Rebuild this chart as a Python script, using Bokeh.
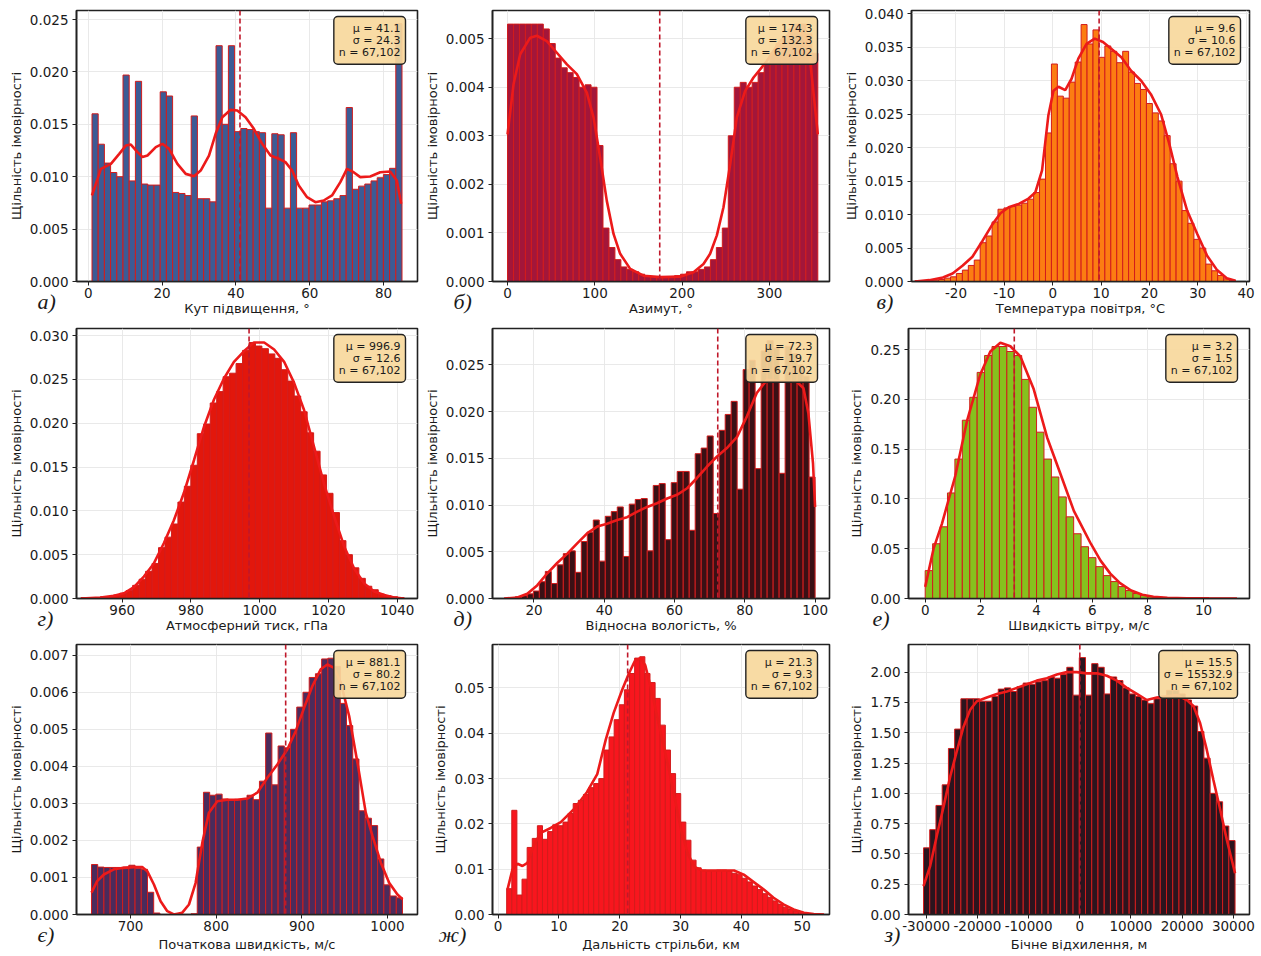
import numpy as np
from bokeh.plotting import figure
from bokeh.layouts import column, row
from bokeh.models import Range1d, FixedTicker, PrintfTickFormatter, Span, Label, Title
from bokeh.embed import file_html
from bokeh.resources import INLINE

N_TEXT = "67,102"
YLABEL = "Щільність імовірності"

# ---------------- panel а) elevation angle ----------------
a_bins = (1.0, 85.0)
a_heights = [0.0160, 0.0131, 0.0113, 0.0104, 0.0100, 0.0197, 0.0096, 0.0191, 0.0093, 0.0092,
             0.0092, 0.0181, 0.0177, 0.0085, 0.0084, 0.0082, 0.0158, 0.0079, 0.0079, 0.0076,
             0.0225, 0.0150, 0.0225, 0.0143, 0.0146, 0.0145, 0.0143, 0.0142, 0.0070, 0.0141,
             0.0140, 0.0070, 0.0142, 0.0070, 0.0070, 0.0073, 0.0073, 0.0076, 0.0077, 0.0079,
             0.0082, 0.0166, 0.0088, 0.0091, 0.0093, 0.0096, 0.0099, 0.0102, 0.0108, 0.0246]
a_kde_x = [0.99, 3.42, 6.13, 8.38, 10.18, 11.53, 13.33, 14.68, 16.04, 18.29, 20.09, 21.89, 24.14,
           26.40, 28.65, 30.45, 32.70, 34.50, 36.31, 38.56, 40.36, 42.61, 44.86, 47.12, 49.37,
           51.62, 53.42, 55.23, 57.03, 59.28, 61.53, 63.78, 66.04, 68.29, 70.09, 71.89, 73.69,
           76.40, 79.10, 81.80, 83.60, 84.77]
a_kde_y = [0.00821, 0.01075, 0.01123, 0.01218, 0.01298, 0.01307, 0.01234, 0.01187, 0.01202,
           0.01282, 0.01314, 0.01266, 0.01123, 0.01027, 0.01005, 0.01059, 0.01202, 0.01409,
           0.01568, 0.01638, 0.01632, 0.01568, 0.01457, 0.01314, 0.01202, 0.01171, 0.01139,
           0.01059, 0.00916, 0.00805, 0.00757, 0.00773, 0.00821, 0.00948, 0.01075, 0.01043,
           0.00996, 0.01002, 0.01043, 0.01050, 0.00964, 0.00741]

# ---------------- panel б) azimuth ----------------
b_bins = (0.0, 355.3)
b_heights = [0.0053, 0.0053, 0.0053, 0.0053, 0.0053, 0.0053, 0.0052, 0.0049, 0.0046, 0.0044,
             0.0043, 0.0042, 0.0040, 0.00405, 0.0040, 0.0028, 0.0011, 0.0007, 0.00045, 0.0003,
             0.00025, 0.0002, 0.00015, 0.00012, 0.0001, 0.0001, 0.0001, 0.0001, 0.00012, 0.00015,
             0.0002, 0.0002, 0.00025, 0.0003, 0.00045, 0.0007, 0.0011, 0.0030, 0.0040, 0.0041,
             0.0040, 0.0041, 0.0043, 0.0045, 0.0047, 0.0049, 0.0050, 0.0052, 0.0053, 0.0053,
             0.0051, 0.0047]
b_kde_x = [0, 6.9, 14.5, 26, 33.6, 45, 56.5, 68, 79.4, 90.8, 98.5, 106, 113.7, 121.4, 129, 140.5,
           155.7, 174.8, 197.7, 213, 224.4, 232, 239.7, 247.3, 255, 262.6, 272, 281.7, 297, 312,
           327.5, 339, 346.6, 355.3]
b_kde_y = [0.00303, 0.00406, 0.00468, 0.00502, 0.00506, 0.00495, 0.00471, 0.00447, 0.00427,
           0.00389, 0.00338, 0.00256, 0.00166, 0.00098, 0.00057, 0.00026, 0.00012, 0.00009,
           0.0001, 0.00019, 0.00036, 0.00057, 0.00095, 0.00153, 0.00242, 0.00338, 0.00392,
           0.0042, 0.00454, 0.00495, 0.00516, 0.00509, 0.00454, 0.00303]

# ---------------- panel в) air temperature ----------------
c_bins = (-28.5, 37.8)
c_heights = [0.0001, 0.0001, 0.0002, 0.0002, 0.0003, 0.0005, 0.0007, 0.0012, 0.0017, 0.0024,
             0.0032, 0.0058, 0.0068, 0.0089, 0.0108, 0.0110, 0.0112, 0.0114, 0.0117, 0.0123,
             0.0133, 0.0153, 0.0222, 0.0325, 0.0277, 0.0274, 0.0298, 0.0328, 0.0384, 0.0355,
             0.0376, 0.0335, 0.0352, 0.0344, 0.0327, 0.0344, 0.0313, 0.0296, 0.0287, 0.0266,
             0.0252, 0.0240, 0.0218, 0.0176, 0.0150, 0.0106, 0.0087, 0.0063, 0.0050, 0.0026,
             0.0016, 0.0009, 0.0004, 0.0002]
c_kde_x = [-28.5, -25.5, -22.7, -20.7, -18.6, -16.6, -14.5, -12.5, -10.8, -9.1, -7.0, -5.0, -3.6,
           -2.2, -0.9, 0.16, 1.2, 2.6, 3.9, 5.3, 7.0, 8.7, 10.4, 12.1, 14.2, 16.2, 18.3, 20.3,
           22.4, 24.1, 25.8, 27.8, 29.9, 31.9, 34.0, 36.0, 37.8]
c_kde_y = [0.0, 0.0002, 0.0006, 0.0012, 0.0024, 0.0037, 0.0061, 0.0085, 0.0102, 0.0111, 0.0116,
           0.0124, 0.0133, 0.0166, 0.0248, 0.0285, 0.0291, 0.0286, 0.0303, 0.0333, 0.0355,
           0.0363, 0.0358, 0.0348, 0.0335, 0.0315, 0.0300, 0.0280, 0.0250, 0.0206, 0.0156,
           0.0106, 0.0071, 0.0039, 0.0017, 0.0005, 0.0001]

# ---------------- panel г) pressure ----------------
d_bins = (948.0, 1042.0)
d_heights = [0.0001, 0.0001, 0.0001, 0.0002, 0.0002, 0.0004, 0.0006, 0.0009, 0.0015, 0.0022,
             0.0031, 0.0040, 0.0058, 0.0070, 0.0085, 0.0110, 0.0128, 0.0152, 0.0188, 0.0199,
             0.0223, 0.0236, 0.0253, 0.0257, 0.0268, 0.0283, 0.0292, 0.0288, 0.0285, 0.0279,
             0.0274, 0.0261, 0.0248, 0.0231, 0.0213, 0.0189, 0.0168, 0.0141, 0.0120, 0.0098,
             0.0066, 0.0050, 0.0035, 0.0023, 0.0014, 0.0010, 0.0005, 0.0003, 0.0002, 0.0001]
d_kde_x = [948, 953.7, 957.6, 960.5, 963.4, 966.3, 969.2, 972.1, 975.0, 977.9, 980.9, 983.8,
           986.7, 989.6, 992.5, 995.4, 998.3, 1001.3, 1004.2, 1007.1, 1010, 1012.9, 1015.8,
           1018.7, 1021.7, 1024.6, 1027.5, 1030.4, 1033.3, 1036.2, 1039.1, 1042]
d_kde_y = [0.0, 0.0001, 0.0003, 0.0006, 0.0013, 0.0025, 0.0040, 0.0063, 0.0089, 0.0120, 0.0158,
           0.0196, 0.0227, 0.0251, 0.0270, 0.0282, 0.0292, 0.0292, 0.0284, 0.0270, 0.0246,
           0.0215, 0.0173, 0.0131, 0.0093, 0.0059, 0.0034, 0.0017, 0.0008, 0.0004, 0.0001, 0.0]

# ---------------- panel д) relative humidity ----------------
e_bins = (13.0, 100.0)
e_heights = [0.0001, 0.0002, 0.0003, 0.0005, 0.0008, 0.0018, 0.0029, 0.0016, 0.0036, 0.0048,
             0.0051, 0.0028, 0.0061, 0.0071, 0.0084, 0.0040, 0.0088, 0.0093, 0.0098, 0.0045,
             0.0101, 0.0106, 0.0107, 0.0051, 0.0121, 0.0123, 0.0063, 0.0124, 0.0136, 0.0136,
             0.0073, 0.0155, 0.0161, 0.0174, 0.0091, 0.0180, 0.0197, 0.0211, 0.0117, 0.0245,
             0.0255, 0.0139, 0.0265, 0.0276, 0.0268, 0.0134, 0.0270, 0.0262, 0.0250, 0.0238,
             0.0130]
e_kde_x = [11.5, 15.3, 18.1, 20.9, 23.8, 26.6, 29.5, 32.3, 35.2, 38, 40.8, 43.7, 46.5, 49.4,
           52.2, 55, 57.9, 60.7, 63.6, 66.4, 69.2, 72.1, 74.9, 77.8, 80.6, 83.4, 86.3, 89.1,
           92, 94.8, 96.7, 98.1, 99.4, 100]
e_kde_y = [0.0, 0.0001, 0.0005, 0.0014, 0.0027, 0.0038, 0.0048, 0.0059, 0.0070, 0.0077, 0.0080,
           0.0084, 0.0087, 0.0093, 0.0098, 0.0102, 0.0107, 0.0111, 0.0118, 0.0129, 0.0141,
           0.0152, 0.0161, 0.0173, 0.0195, 0.0220, 0.0234, 0.0233, 0.0232, 0.0232, 0.0225,
           0.0198, 0.0145, 0.0098]

# ---------------- panel е) wind speed ----------------
f_bins = (0.0, 11.2)
f_heights = [0.028, 0.055, 0.072, 0.106, 0.140, 0.179, 0.202, 0.227, 0.244, 0.253,
             0.253, 0.248, 0.244, 0.220, 0.192, 0.167, 0.140, 0.122, 0.102, 0.082,
             0.065, 0.052, 0.041, 0.032, 0.023, 0.017, 0.012, 0.008, 0.005, 0.003,
             0.002, 0.0012, 0.0008, 0.0005, 0.0003, 0.0002, 0.0001, 0.0001, 0.00005, 0.00005,
             0.00003, 0.00002]
f_kde_x = [0.0, 0.30, 0.6, 1.08, 1.50, 1.98, 2.34, 2.70, 3.06, 3.42, 3.90, 4.38, 4.86, 5.34,
           5.6, 5.95, 6.3, 6.65, 7.0, 7.4, 7.8, 8.2, 8.7, 9.4, 10.2, 11.2]
f_kde_y = [0.0117, 0.050, 0.075, 0.123, 0.178, 0.225, 0.248, 0.2567, 0.2533, 0.243, 0.21,
           0.1617, 0.125, 0.088, 0.074, 0.055, 0.038, 0.025, 0.0155, 0.008, 0.0037, 0.0017,
           0.0008, 0.0003, 0.0001, 0.0]

# ---------------- panel є) muzzle velocity ----------------
g_bins = (654.4, 1017.5)
g_heights = [0.00135, 0.00128, 0.00127, 0.00127, 0.00127, 0.00128, 0.00133, 0.00125, 0.00122, 0.00060,
             0.00004, 0.0, 0.0, 0.0, 0.0, 0.0, 0.00002, 0.00182, 0.00330, 0.00322,
             0.00325, 0.00312, 0.00310, 0.00311, 0.00312, 0.00322, 0.00310, 0.00360, 0.00490, 0.00350,
             0.00455, 0.00450, 0.00500, 0.00560, 0.00600, 0.00640, 0.00650, 0.00690, 0.00692, 0.00670,
             0.00570, 0.00510, 0.00420, 0.00280, 0.00260, 0.00240, 0.00150, 0.00080, 0.00050, 0.00045]
g_kde_x = [654.4, 661, 668.8, 680.5, 692.2, 703.9, 713.6, 719.5, 727.3, 735.1, 742.9, 750.6,
           760.4, 768.2, 775.9, 783.8, 791.5, 801.3, 813, 824.7, 836.3, 848, 859.7, 871.4,
           883.1, 892.8, 902.6, 912.3, 922, 929.8, 937.6, 945.4, 955.2, 964.9, 974.6, 982.4,
           992.2, 1001.9, 1011.6, 1017.5]
g_kde_y = [0.00059, 0.0009, 0.00108, 0.00122, 0.00126, 0.00128, 0.00128, 0.00117, 0.00081,
           0.00036, 0.00009, 0.0, 0.00005, 0.00027, 0.00085, 0.00194, 0.00275, 0.00306, 0.0031,
           0.0031, 0.00313, 0.00329, 0.00369, 0.00405, 0.00446, 0.00495, 0.00558, 0.00617,
           0.00662, 0.00675, 0.00666, 0.00626, 0.00536, 0.0041, 0.00275, 0.00212, 0.0014,
           0.00086, 0.00054, 0.00041]

# ---------------- panel ж) firing range ----------------
h_bins = (1.4, 53.6)
h_heights = [0.0057, 0.0230, 0.0043, 0.0078, 0.0148, 0.0168, 0.0196, 0.0166, 0.0183, 0.0198,
             0.0196, 0.0204, 0.0223, 0.0245, 0.0252, 0.0265, 0.0280, 0.0289, 0.0300, 0.0363,
             0.0392, 0.0430, 0.0463, 0.0496, 0.0532, 0.0566, 0.0569, 0.0532, 0.0512, 0.0477,
             0.0418, 0.0363, 0.0311, 0.0267, 0.0204, 0.0164, 0.0120, 0.0103, 0.0098, 0.0097,
             0.0097, 0.0098, 0.0098, 0.0096, 0.0091, 0.0089, 0.0080, 0.0072, 0.0063, 0.0055,
             0.0046, 0.0038, 0.0030, 0.0023, 0.0016, 0.0011, 0.0007, 0.0004, 0.0002, 0.0001,
             0.00005, 0.00003]
h_kde_x = [1.53, 2.35, 3.18, 4.0, 4.82, 5.9, 7.0, 8.65, 10.3, 12.5, 14.6, 16.3, 17.7, 19.0,
           20.4, 21.5, 22.5, 23.4, 24.2, 25.2, 26.6, 28.0, 29.0, 30.1, 31.2, 32.3, 33.6, 36.4,
           38.8, 40.4, 42.1, 43.7, 45.3, 47.0, 48.6, 50.3, 51.9, 53.6]
h_kde_y = [0.0055, 0.0099, 0.0112, 0.0107, 0.0114, 0.0154, 0.018, 0.0191, 0.0204, 0.0233,
           0.0270, 0.031, 0.0386, 0.0445, 0.0496, 0.0532, 0.056, 0.0566, 0.055, 0.0496, 0.041,
           0.0326, 0.026, 0.0186, 0.0134, 0.0105, 0.0097, 0.0097, 0.0097, 0.0088, 0.0071,
           0.0055, 0.0037, 0.0022, 0.0011, 0.0004, 0.0001, 0.0]

# ---------------- panel з) lateral deviation ----------------
i_bins = (-30520.0, 30330.0)
i_heights = [0.55, 0.70, 0.90, 1.07, 1.37, 1.53, 1.78, 1.78, 1.78, 1.76,
             1.76, 1.80, 1.86, 1.87, 1.84, 1.88, 1.91, 1.90, 1.92, 1.93,
             1.96, 1.95, 1.98, 2.04, 1.81, 2.12, 1.81, 2.07, 2.04, 1.82,
             1.96, 1.93, 1.87, 1.82, 1.80, 1.77, 1.74, 1.78, 1.80, 1.85,
             1.85, 1.82, 1.77, 1.72, 1.51, 1.29, 1.00, 0.93, 0.73, 0.61]
i_kde_x = [-30520, -29220, -27920, -26600, -25300, -24000, -22700, -21400, -20100, -18150,
           -16200, -14240, -12290, -10340, -8400, -6430, -4480, -2530, -580, 1380, 3330, 5290,
           7240, 9190, 11150, 13100, 15050, 17000, 18960, 20900, 22200, 23500, 24800, 26100,
           27400, 28700, 30330]
i_kde_y = [0.234, 0.40, 0.65, 0.89, 1.14, 1.35, 1.55, 1.69, 1.76, 1.79, 1.82, 1.84, 1.87, 1.90,
           1.93, 1.95, 1.98, 2.00, 2.00, 1.99, 1.99, 1.97, 1.93, 1.87, 1.82, 1.77, 1.79, 1.80,
           1.81, 1.77, 1.72, 1.58, 1.36, 1.11, 0.87, 0.62, 0.34]

panels = [
    dict(letter="а)", xlabel="Кут підвищення, °", bins=a_bins, h=a_heights, kx=a_kde_x, ky=a_kde_y,
         mu="41.1", sd="24.3", mean=41.1, fill="#3c5b95", xr=(-3.2, 89.2), yr=(0, 0.02586),
         xt=[0, 20, 40, 60, 80], yt=[0, 0.005, 0.01, 0.015, 0.02, 0.025], yf="%.3f", lx=-39),
    dict(letter="б)", xlabel="Азимут, °", bins=b_bins, h=b_heights, kx=b_kde_x, ky=b_kde_y,
         mu="174.3", sd="132.3", mean=174.3, fill="#a3163a", xr=(-17.2, 368.7), yr=(0, 0.00558),
         xt=[0, 100, 200, 300], yt=[0, 0.001, 0.002, 0.003, 0.004, 0.005], yf="%.3f", lx=-39),
    dict(letter="в)", xlabel="Температура повітря, °C", bins=c_bins, h=c_heights, kx=c_kde_x, ky=c_kde_y,
         mu="9.6", sd="10.6", mean=9.6, fill="#fc7d12", xr=(-29.2, 40.7), yr=(0, 0.0405),
         xt=[-20, -10, 0, 10, 20, 30, 40], yt=[0, 0.005, 0.01, 0.015, 0.02, 0.025, 0.03, 0.035, 0.04],
         yf="%.3f", lx=-35),
    dict(letter="г)", xlabel="Атмосферний тиск, гПа", bins=d_bins, h=d_heights, kx=d_kde_x, ky=d_kde_y,
         mu="996.9", sd="12.6", mean=996.9, fill="#e2170c", xr=(946.7, 1045.9), yr=(0, 0.0308),
         xt=[960, 980, 1000, 1020, 1040], yt=[0, 0.005, 0.01, 0.015, 0.02, 0.025, 0.03], yf="%.3f",
         lx=-39),
    dict(letter="д)", xlabel="Відносна вологість, %", bins=e_bins, h=e_heights, kx=e_kde_x, ky=e_kde_y,
         mu="72.3", sd="19.7", mean=72.3, fill="#3a1015", xr=(8.2, 104.1), yr=(0, 0.0289),
         xt=[20, 40, 60, 80, 100], yt=[0, 0.005, 0.01, 0.015, 0.02, 0.025], yf="%.3f", lx=-39),
    dict(letter="е)", xlabel="Швидкість вітру, м/с", bins=f_bins, h=f_heights, kx=f_kde_x, ky=f_kde_y,
         mu="3.2", sd="1.5", mean=3.2, fill="#86c11e", xr=(-0.6, 11.65), yr=(0, 0.2711),
         xt=[0, 2, 4, 6, 8, 10], yt=[0, 0.05, 0.1, 0.15, 0.2, 0.25], yf="%.2f", lx=-36),
    dict(letter="є)", xlabel="Початкова швидкість, м/с", bins=g_bins, h=g_heights, kx=g_kde_x, ky=g_kde_y,
         mu="881.1", sd="80.2", mean=881.1, fill="#4b2b5c", xr=(636.9, 1035.0), yr=(0, 0.00729),
         xt=[700, 800, 900, 1000], yt=[0, 0.001, 0.002, 0.003, 0.004, 0.005, 0.006, 0.007], yf="%.3f",
         lx=-39),
    dict(letter="ж)", xlabel="Дальність стрільби, км", bins=h_bins, h=h_heights, kx=h_kde_x, ky=h_kde_y,
         mu="21.3", sd="9.3", mean=21.3, fill="#f8161e", xr=(-0.93, 54.5), yr=(0, 0.0596),
         xt=[0, 10, 20, 30, 40, 50], yt=[0, 0.01, 0.02, 0.03, 0.04, 0.05], yf="%.2f", lx=-54),
    dict(letter="з)", xlabel="Бічне відхилення, м", bins=i_bins, h=i_heights, kx=i_kde_x, ky=i_kde_y,
         mu="15.5", sd="15532.9", mean=15.5, fill="#2c141e", xr=(-33450, 33150), yr=(0, 2.228),
         xt=[-30000, -20000, -10000, 0, 10000, 20000, 30000],
         yt=[0, 0.25, 0.5, 0.75, 1.0, 1.25, 1.5, 1.75, 2.0], yf="%.2f", lx=-24),
]

COLS = [(420, 76, 3), (420, 72, 11), (421, 68, 12)]   # width, border left, border right
ROWS = [(318, 10, 37, -6), (318, 10, 38, -5), (320, 8, 42, 0)]   # height, top, bottom, xlabel standoff

FONT = "DejaVu Sans"
TXT = "#1a1a1a"


def make_panel(pd, ci, ri):
    w, bl, br = COLS[ci]
    h, bt, bb, xso = ROWS[ri]
    fw, fh = w - bl - br, h - bt - bb
    p = figure(width=w, height=h, output_backend="svg", toolbar_location=None,
               x_range=Range1d(*pd["xr"]), y_range=Range1d(*pd["yr"]),
               min_border_left=bl, min_border_right=br, min_border_top=bt, min_border_bottom=bb)
    p.background_fill_color = "white"
    p.border_fill_color = "white"
    p.outline_line_color = "#222222"
    p.outline_line_width = 1.6

    edges = np.linspace(pd["bins"][0], pd["bins"][1], len(pd["h"]) + 1)
    p.quad(left=edges[:-1], right=edges[1:], bottom=0, top=pd["h"],
           fill_color=pd["fill"], fill_alpha=1.0, line_color="#d21c1c", line_width=1.0)
    p.line(pd["kx"], pd["ky"], line_color="#ec1a1a", line_width=2.6)
    p.add_layout(Span(location=pd["mean"], dimension="height", line_color="#c0182a",
                      line_dash="5 3", line_width=1.6))

    for ax in (p.xaxis[0], p.yaxis[0]):
        ax.axis_line_color = "#222222"
        ax.axis_line_width = 1.6
        ax.major_tick_in = 0
        ax.major_tick_out = 4
        ax.major_tick_line_color = "#222222"
        ax.minor_tick_line_color = None
        ax.major_label_text_font = FONT
        ax.major_label_text_font_size = "13.5px"
        ax.major_label_text_color = TXT
        ax.axis_label_text_font = FONT
        ax.axis_label_text_font_style = "normal"
        ax.axis_label_text_color = TXT
    p.xaxis.ticker = FixedTicker(ticks=pd["xt"])
    p.yaxis.ticker = FixedTicker(ticks=pd["yt"])
    p.xaxis.formatter = PrintfTickFormatter(format="%d")
    p.yaxis.formatter = PrintfTickFormatter(format=pd["yf"])
    p.xaxis.major_label_standoff = 2
    p.yaxis.major_label_standoff = 4
    p.yaxis.axis_label = YLABEL
    p.yaxis.axis_label_text_font_size = "13px"
    p.yaxis.axis_label_standoff = 3
    p.grid.grid_line_color = "#e6e6e6"
    p.grid.grid_line_width = 0.9

    stats = "μ = %s\nσ = %s\nn = %s" % (pd["mu"], pd["sd"], N_TEXT)
    p.add_layout(Label(x=fw - 12, y=fh - 6, x_units="screen", y_units="screen", text=stats,
                       text_align="right", text_baseline="top", text_font=FONT,
                       text_font_size="11px", text_color=TXT, text_line_height=0.95,
                       background_fill_color="#f7d89c", background_fill_alpha=0.92,
                       border_line_color="#222222", border_line_width=1.4,
                       padding=5, border_radius=4))
    # panel letter: a (nearly) zero-height title below the tick labels, shifted to the left
    p.add_layout(Title(text=pd["letter"], align="left", vertical_align="middle", offset=pd["lx"],
                       standoff=-25, text_font="Liberation Serif", text_font_style="italic",
                       text_font_size="22px", text_color=TXT), "below")
    # x axis label as a centred title under it
    p.add_layout(Title(text=pd["xlabel"], align="center", vertical_align="middle", standoff=xso,
                       text_font=FONT, text_font_style="normal", text_font_size="13px",
                       text_color=TXT), "below")
    return p


figs = [make_panel(pd, k % 3, k // 3) for k, pd in enumerate(panels)]
layout = column(row(*figs[0:3]), row(*figs[3:6]), row(*figs[6:9]))
open("out.html", "w").write(file_html(layout, INLINE))
